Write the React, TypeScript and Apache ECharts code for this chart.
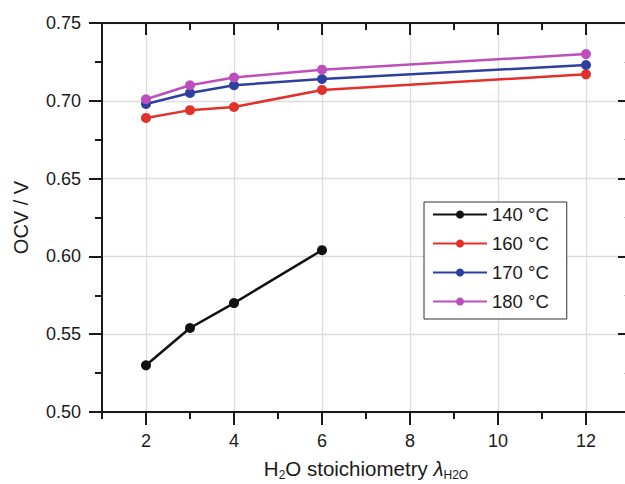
import React, { useEffect, useRef } from 'react';
import * as echarts from 'echarts';

// Tick positions of the x axis (λ_H2O), categories used only to draw ticks/labels
const xTickValues = ['1', '2', '3', '4', '5', '6', '7', '8', '9', '10', '11', '12', '13'];

// Series data (x = H2O stoichiometry, y = OCV / V)
const lambda140 = [2, 3, 4, 6];
const ocv140 = [0.530, 0.554, 0.570, 0.604];

const lambdaHigh = [2, 3, 4, 6, 12];
const ocv160 = [0.689, 0.694, 0.696, 0.707, 0.717];
const ocv170 = [0.698, 0.705, 0.710, 0.714, 0.723];
const ocv180 = [0.701, 0.710, 0.715, 0.720, 0.730];

const seriesNames = ['140 °C', '160 °C', '170 °C', '180 °C'];
const seriesColors = ['#111111', '#e2302a', '#2d3f9f', '#bd4fbd'];

const FONT = "'Liberation Sans', Arial, Helvetica, sans-serif";
const AXIS_COLOR = '#1a1a1a';
const GRID_COLOR = '#dcdcdc';

function pairs(xs: number[], ys: number[]) {
  return xs.map((x, i) => [x, ys[i]]);
}

const isEven = (idx: number) => idx % 2 === 1; // category index 1 -> value 2

export default function App() {
  const ref = useRef<HTMLDivElement>(null);

  useEffect(() => {
    if (!ref.current) return;
    const chart = echarts.init(ref.current, null, { renderer: 'svg' });

    const catBase = {
      type: 'category',
      data: xTickValues,
      boundaryGap: false,
      gridIndex: 0,
      axisLabel: { show: false },
      splitLine: { show: false },
      axisLine: { show: false, onZero: false },
    };

    const dataSets = [
      pairs(lambda140, ocv140),
      pairs(lambdaHigh, ocv160),
      pairs(lambdaHigh, ocv170),
      pairs(lambdaHigh, ocv180),
    ];

    chart.setOption({
      animation: false,
      backgroundColor: '#ffffff',
      textStyle: { fontFamily: FONT },
      grid: { left: 102, top: 23, width: 528, height: 389, containLabel: false, outerBoundsMode: 'none' },
      xAxis: [
        {
          type: 'value',
          min: 1,
          max: 13,
          show: false,
        },
        // bottom: axis line, major ticks, labels, gridlines
        {
          ...catBase,
          position: 'bottom',
          axisLine: { show: true, onZero: false, lineStyle: { color: AXIS_COLOR, width: 2 } },
          axisTick: { show: true, interval: (i: number) => isEven(i), length: 13, inside: false, lineStyle: { color: AXIS_COLOR, width: 2 } },
          axisLabel: { show: true, interval: (i: number) => isEven(i), margin: 20, fontSize: 18, color: '#1a1a1a', fontFamily: FONT },
          splitLine: { show: true, interval: (i: number) => isEven(i) && i < 12, lineStyle: { color: GRID_COLOR, width: 1.3 } },
          name: '{a|H}{sub|2}{a|O stoichiometry }{l|λ}{sub|H2O}',
          nameLocation: 'middle',
          nameGap: 44,
          nameTextStyle: {
            rich: {
              a: { fontSize: 20.5, color: '#1a1a1a', fontFamily: FONT },
              l: { fontSize: 20.5, color: '#1a1a1a', fontFamily: FONT, fontStyle: 'italic' },
              sub: { fontSize: 12, color: '#1a1a1a', fontFamily: FONT, padding: [13, 0, 0, 0] },
            },
          },
        },
        // bottom minor ticks
        {
          ...catBase,
          position: 'bottom',
          axisTick: { show: true, interval: 0, length: 7, inside: false, lineStyle: { color: AXIS_COLOR, width: 2 } },
        },
        // top: axis line and major ticks (inside)
        {
          ...catBase,
          position: 'top',
          axisLine: { show: true, onZero: false, lineStyle: { color: AXIS_COLOR, width: 2 } },
          axisTick: { show: true, interval: (i: number) => isEven(i), length: 12, inside: true, lineStyle: { color: AXIS_COLOR, width: 2 } },
        },
        // top minor ticks
        {
          ...catBase,
          position: 'top',
          axisTick: { show: true, interval: 0, length: 7, inside: true, lineStyle: { color: AXIS_COLOR, width: 2 } },
        },
      ],
      yAxis: [
        {
          type: 'value',
          position: 'left',
          min: 0.5,
          max: 0.75,
          interval: 0.05,
          axisLine: { show: true, onZero: false, lineStyle: { color: AXIS_COLOR, width: 2 } },
          axisTick: { show: true, length: 13, inside: false, lineStyle: { color: AXIS_COLOR, width: 2 } },
          minorTick: { show: true, splitNumber: 2, length: 7, lineStyle: { color: AXIS_COLOR, width: 2 } },
          axisLabel: { margin: 21, fontSize: 18, color: '#1a1a1a', fontFamily: FONT, formatter: (v: number) => v.toFixed(2) },
          splitLine: { show: true, lineStyle: { color: GRID_COLOR, width: 1.3 } },
          name: 'OCV / V',
          nameLocation: 'middle',
          nameGap: 71,
          nameTextStyle: { fontSize: 20, color: '#1a1a1a', fontFamily: FONT },
        },
        {
          type: 'value',
          position: 'right',
          min: 0.5,
          max: 0.75,
          interval: 0.05,
          axisLine: { show: true, onZero: false, lineStyle: { color: AXIS_COLOR, width: 2 } },
          axisTick: { show: true, length: 12, inside: true, lineStyle: { color: AXIS_COLOR, width: 2 } },
          minorTick: { show: true, splitNumber: 2, length: 6, lineStyle: { color: '#bbbbbb', width: 1 } },
          axisLabel: { show: false },
          splitLine: { show: false },
        },
      ],
      legend: {
        data: seriesNames,
        orient: 'vertical',
        left: 424,
        top: 202,
        itemWidth: 54,
        itemHeight: 10,
        itemGap: 10,
        padding: [3, 18, 8, 8],
        borderColor: '#333333',
        borderWidth: 1,
        borderRadius: 0,
        backgroundColor: '#ffffff',
        textStyle: { fontSize: 18.5, color: '#1a1a1a', fontFamily: FONT },
      },
      series: dataSets.map((d, i) => ({
        name: seriesNames[i],
        type: 'line',
        xAxisIndex: 0,
        yAxisIndex: 0,
        data: d,
        symbol: 'circle',
        symbolSize: 10,
        color: seriesColors[i],
        lineStyle: { width: 2.5, color: seriesColors[i] },
        itemStyle: { color: seriesColors[i] },
        z: 3 + i,
      })),
    });

    return () => chart.dispose();
  }, []);

  return (
    <div
      ref={ref}
      style={{ position: 'fixed', left: 0, top: 0, width: 625, height: 484, background: '#fff' }}
    />
  );
}
